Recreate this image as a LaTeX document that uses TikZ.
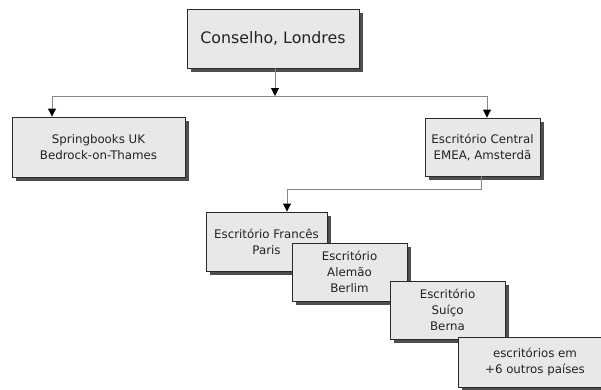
\documentclass[tikz,border=0pt]{standalone}
\usepackage{fontspec}
\setmainfont{DejaVu Sans}
\usetikzlibrary{arrows.meta,shadows}
\definecolor{boxfill}{HTML}{E7E8E9}
\definecolor{boxline}{HTML}{2A2A2A}
\definecolor{wire}{HTML}{858585}
\definecolor{shade}{HTML}{4E4E4E}
\definecolor{ink}{HTML}{222222}
\tikzset{
  office/.style={draw=boxline, line width=0.9pt, fill=boxfill, align=center,
    text=ink, font=\fontsize{11.8}{16}\selectfont, inner sep=0pt,
    drop shadow={shadow xshift=3.5pt, shadow yshift=-3.5pt, fill=shade, opacity=1}},
  link/.style={draw=wire, line width=0.9pt},
  tip/.style={link, -{Triangle[length=8pt,width=8pt,fill=black,color=black]}}
}
\begin{document}
\begin{tikzpicture}[x=1pt,y=-1pt]
  \useasboundingbox (0,0) rectangle (601,389);
  \begin{scope}
  \clip (0,0) rectangle (601,389);
  % head office
  \node[office, minimum width=172pt, minimum height=59pt, font=\fontsize{15.8}{19}\selectfont]
    (hq) at (273,38.5) {Conselho, Londres};
  % first level
  \node[office, minimum width=173pt, minimum height=60pt] (uk) at (98.5,147)
    {Springbooks UK\\Bedrock-on-Thames};
  \node[office, minimum width=115pt, minimum height=58pt] (ams) at (482.5,147)
    {Escritório Central\\EMEA, Amsterdã};
  % national offices, cascading
  \node[office, minimum width=121pt, minimum height=59pt] (fr) at (266.5,241.5)
    {Escritório Francês\\Paris};
  \node[office, minimum width=115pt, minimum height=58pt] (de) at (349.5,272)
    {Escritório\\Alemão\\Berlim};
  \node[office, minimum width=115pt, minimum height=58pt] (ch) at (447.5,310)
    {Escritório\\Suíço\\Berna};
  \node[office, minimum width=154pt, minimum height=50pt] (more) at (535,362)
    {escritórios em\\+6 outros países};
  % connectors
  \coordinate (busC) at (275,96);
  \coordinate (busL) at (52,96);
  \coordinate (busR) at (487,96);
  \coordinate (emeaDown) at (481,189);
  \coordinate (emeaTurn) at (287,189);
  \draw[tip] (hq.south -| busC) -- (busC);
  \draw[link] (busL) -- (busR);
  \draw[tip] (busL) -- (uk.north -| busL);
  \draw[tip] (busR) -- (ams.north -| busR);
  \draw[link] (ams.south -| emeaDown) -- (emeaDown) -- (emeaTurn);
  \draw[tip] (emeaTurn) -- (fr.north -| emeaTurn);
  \end{scope}
\end{tikzpicture}
\end{document}
